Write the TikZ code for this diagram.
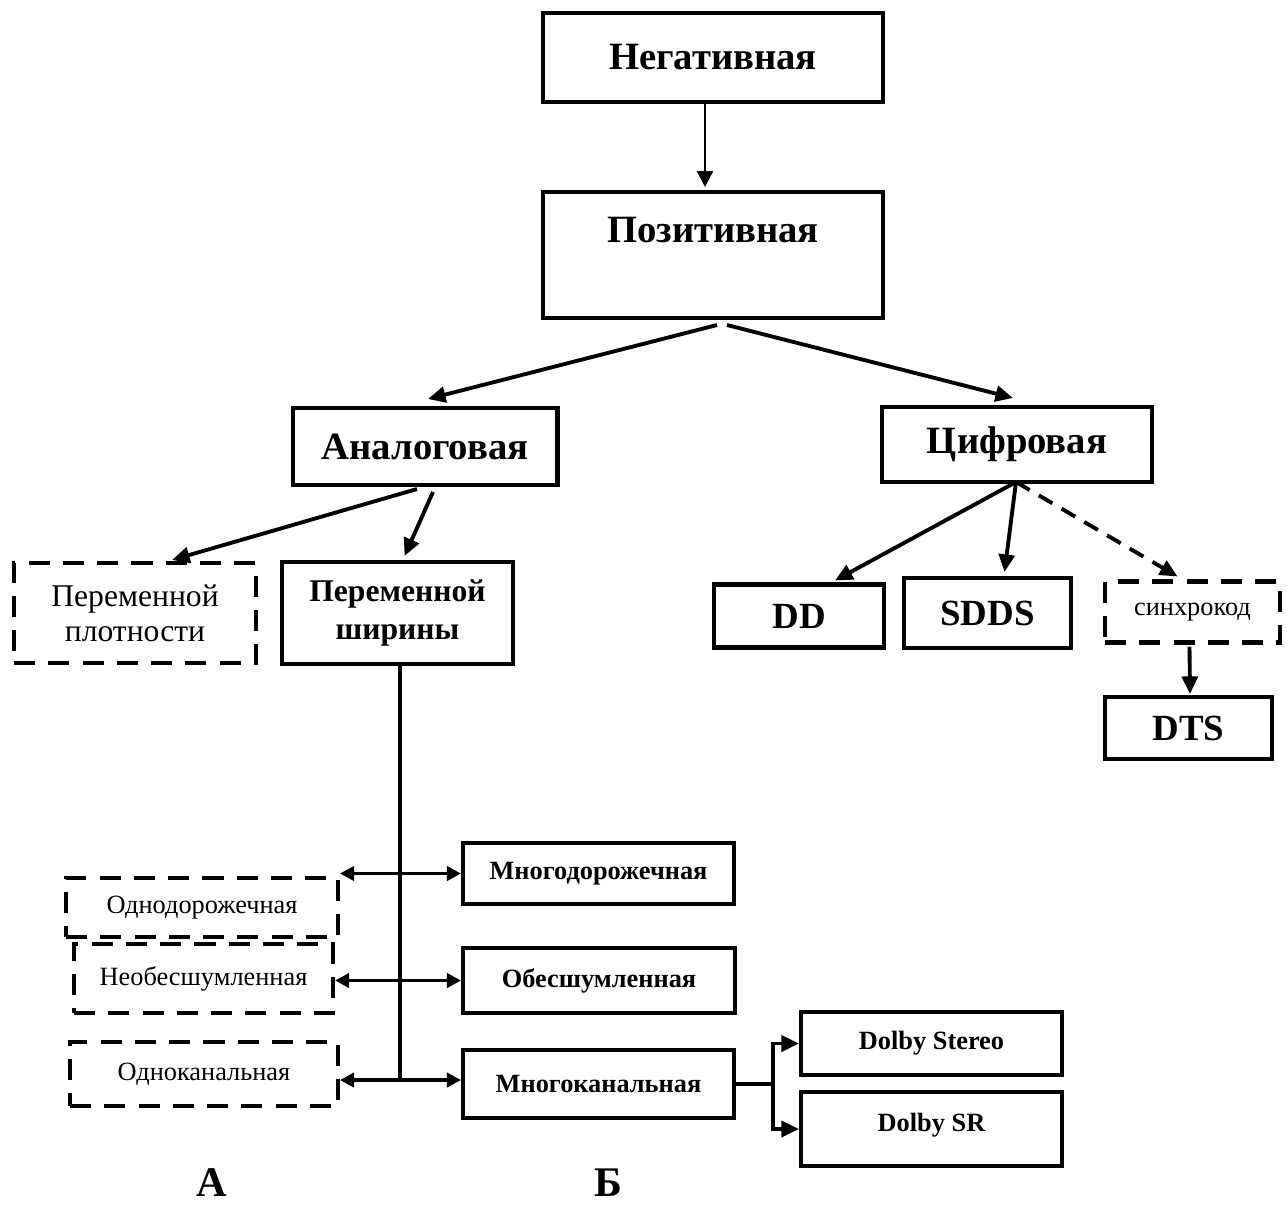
\documentclass[tikz,border=0pt]{standalone}
\usepackage{fontspec}
\setmainfont{Liberation Serif}
\usetikzlibrary{arrows.meta,calc}

\tikzset{
  box/.style={draw,line width=2.3pt,inner sep=0pt,align=center},
  dbox/.style={box,dash pattern=on 12pt off 7.5pt},
  arr/.style={line width=2.2pt,-{Triangle[length=10pt,width=9pt]}},
  thinarr/.style={line width=1.3pt,-{Triangle[length=9pt,width=9pt]}},
  darr/.style={arr,dash pattern=on 9pt off 6pt},
  twoarr/.style={line width=2.2pt,{Triangle[length=8pt,width=8pt]}-{Triangle[length=8pt,width=8pt]}},
  trunk/.style={line width=2pt},
  bigtxt/.style={font=\fontsize{22}{24}\selectfont\bfseries},
  codetxt/.style={font=\fontsize{21}{24}\selectfont\bfseries},
  midtxt/.style={font=\fontsize{18}{20}\selectfont},
  midbold/.style={font=\fontsize{18}{21.5}\selectfont\bfseries},
  smalltxt/.style={font=\fontsize{15}{17}\selectfont},
  smallbold/.style={font=\fontsize{15}{17}\selectfont\bfseries},
  lettertxt/.style={font=\fontsize{24}{26}\selectfont\bfseries}
}

\begin{document}
\begin{tikzpicture}[x=0.02cm,y=-0.02cm]
\useasboundingbox (0,0) rectangle (1287,1214);

% top of the tree
\node[box,bigtxt,minimum width=6.8cm,minimum height=1.78cm] (neg) at (713,57.5) {Негативная};
\node[box,minimum width=6.8cm,minimum height=2.52cm] (pos) at (713,255) {};
\node[bigtxt] (postxt) at (713,230) {Позитивная};

\node[box,bigtxt,minimum width=5.3cm,minimum height=1.54cm] (analog) at (425,446.5) {Аналоговая};
\node[box,bigtxt,minimum width=5.4cm,minimum height=1.5cm] (digit) at (1017,444.5) {Цифровая};

% analog branch
\node[dbox,midtxt,minimum width=4.84cm,minimum height=2cm] (dens) at (135,613) {Переменной\\плотности};
\node[box,midbold,minimum width=4.62cm,minimum height=2.04cm] (width) at (397.5,613) {Переменной\\ширины};

% digital branch
\node[box,codetxt,minimum width=3.4cm,minimum height=1.26cm] (dd) at (799,616) {DD};
\node[box,codetxt,minimum width=3.34cm,minimum height=1.4cm] (sdds) at (987.5,613) {SDDS};
\node[dbox,smalltxt,minimum width=3.5cm,minimum height=1.22cm] (sync) at (1192.5,612) {синхрокод};
\node[box,codetxt,minimum width=3.34cm,minimum height=1.24cm] (dts) at (1188.5,728) {DTS};

% variants of the width track
\node[box,smallbold,minimum width=5.42cm,minimum height=1.22cm] (multi) at (598.5,873.5) {Многодорожечная};
\node[dbox,smalltxt,minimum width=5.44cm,minimum height=1.18cm] (single) at (202,907.5) {Однодорожечная};
\node[dbox,smalltxt,minimum width=5.18cm,minimum height=1.38cm] (noisy) at (203.5,978.5) {Необесшумленная};
\node[box,smallbold,minimum width=5.44cm,minimum height=1.3cm] (quiet) at (599,980.5) {Обесшумленная};
\node[dbox,smalltxt,minimum width=5.36cm,minimum height=1.28cm] (mono) at (204,1074) {Одноканальная};
\node[box,smallbold,minimum width=5.42cm,minimum height=1.36cm] (multich) at (598.5,1084) {Многоканальная};
\node[box,smallbold,minimum width=5.22cm,minimum height=1.26cm] (stereo) at (931.5,1043.5) {Dolby Stereo};
\node[box,smallbold,minimum width=5.22cm,minimum height=1.48cm,text depth=8pt] (sr) at (931.5,1129) {Dolby SR};

\node[lettertxt] (la) at (212,1183) {А};
\node[lettertxt] (lb) at (608,1183) {Б};

% connectors
\draw[thinarr] ($(neg.south)+(-8,0)$) -- ($(pos.north)+(-8,-3)$);
\draw[arr] ($(pos.south)+(4,5)$) -- ($(analog.north)+(3,-7)$);
\draw[arr] ($(pos.south)+(14,5)$) -- ($(digit.north)+(-4,-7)$);

\draw[arr] ($(analog.south)+(-8,2)$) -- ($(dens.north)+(37,-1)$);
\draw[arr] ($(analog.south)+(8,5)$) -- ($(width.north)+(7,-4)$);

\draw[arr] ($(digit.south)+(-1,-2)$) -- ($(dd.north)+(36,-2)$);
\draw[arr] ($(digit.south)+(-1,-2)$) -- ($(sdds.north)+(17,-4)$);
\draw[darr] ($(digit.south)+(-1,-2)$) -- ($(sync.north)+(-15,-3)$);
\draw[arr] ($(sync.south)+(-3,2)$) -- ($(dts.north)+(1.5,-1)$);

\coordinate (junc) at ($(width.south)+(2.5,414)$);
\draw[trunk] (width.south -| junc) -- (junc);
\draw[twoarr] (multi.west) -- (multi.west -| single.east);
\draw[twoarr] (quiet.west) -- (quiet.west -| noisy.east);
\draw[twoarr] (junc -| multich.west) -- (junc -| mono.east);

\coordinate (fork) at ($(multich.east)+(37,0)$);
\draw[trunk] (multich.east) -- (fork);
\draw[arr] (fork) |- (stereo.west);
\draw[arr] (fork) |- (sr.west);
\end{tikzpicture}
\end{document}
